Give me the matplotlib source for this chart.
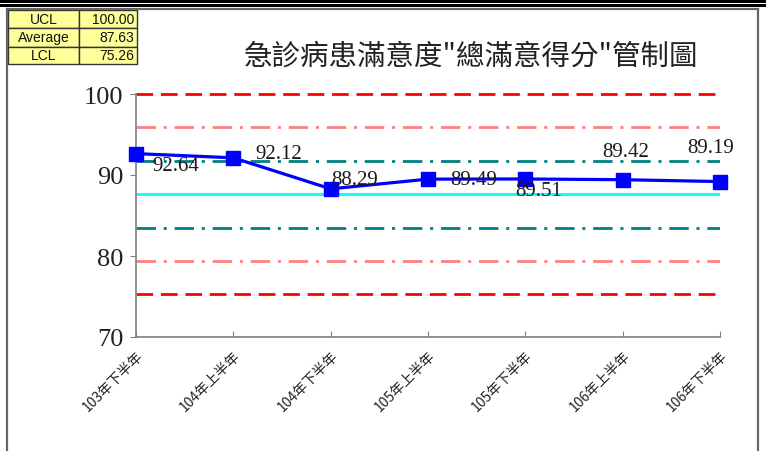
import matplotlib
matplotlib.use("Agg")
import matplotlib.pyplot as plt
from matplotlib.patches import Rectangle
from matplotlib.lines import Line2D

# ---- data ----
periods = ["103年下半年", "104年上半年", "104年下半年", "105年上半年",
           "105年下半年", "106年上半年", "106年下半年"]
scores = [92.64, 92.12, 88.29, 89.49, 89.51, 89.42, 89.19]
ucl = 100.00
average = 87.63
lcl = 75.26
table_labels = ["UCL", "Average", "LCL"]
table_values = [ucl, average, lcl]
yticks = [70, 80, 90, 100]
title = '急診病患滿意度"總滿意得分"管制圖'

# label offsets (pixels) relative to each point: (dx, dy, ha, va)
label_offsets = [(16, -12, "left", "center"), (22, 4, "left", "center"),
                 (1, 9, "left", "center"), (22, 0, "left", "center"),
                 (13, -12, "center", "center"), (3, 28, "center", "center"),
                 (-9, 34, "center", "center")]

W, H = 766, 452
fig = plt.figure(figsize=(W / 100, H / 100), dpi=100)
fig.patch.set_facecolor("white")

def fx(px):
    return px / W

def fy(py):
    return 1 - py / H

# ---- page frame ----
fig.patches.append(Rectangle((0, fy(4)), 1, 4 / H, transform=fig.transFigure,
                             color="black", lw=0))
fig.patches.append(Rectangle((0, fy(7.5)), 1, 2.5 / H, transform=fig.transFigure,
                             color="black", lw=0))
for xs, ys in [([7, 7], [10, 452]), ([7, 758], [10, 10]), ([758, 758], [10, 452])]:
    fig.add_artist(Line2D([fx(v) for v in xs], [fy(v) for v in ys],
                          transform=fig.transFigure, color="#666666", lw=1.6))

# ---- axes ----
ax = fig.add_axes([fx(136), fy(338), fx(720) - fx(136), fy(95) - fy(338)])
x = list(range(len(periods)))
ax.set_xlim(0, len(periods) - 1)
ax.set_ylim(70, 100)

sigma = (ucl - average) / 3
dash_long = (0, (6, 2.8))
dash_dot = (0, (7, 2.8, 1.1, 2.8))
ax.axhline(ucl, color="#FF0000", lw=2.0, ls=dash_long, zorder=2, clip_on=False)
ax.axhline(lcl, color="#FF0000", lw=2.0, ls=dash_long, zorder=2)
ax.axhline(average + 2 * sigma, color="#FF8080", lw=2.0, ls=dash_dot, zorder=2)
ax.axhline(average - 2 * sigma, color="#FF8080", lw=2.0, ls=dash_dot, zorder=2)
ax.axhline(average + sigma, color="#008080", lw=2.0, ls=dash_dot, zorder=2)
ax.axhline(average - sigma, color="#008080", lw=2.0, ls=dash_dot, zorder=2)
ax.axhline(average, color="#00FFFF", lw=2.0, zorder=2)

ax.plot(x, scores, color="#0000FF", lw=2.3, marker="s", markersize=10.5,
        markerfacecolor="#0000FF", markeredgecolor="#0000FF", zorder=4,
        clip_on=False)

for xi, v, (dx, dy, ha, va) in zip(x, scores, label_offsets):
    ax.annotate(f"{v:.2f}", (xi, v), xytext=(dx * 0.72, dy * 0.72),
                textcoords="offset points", ha=ha, va=va,
                fontsize=15, family="Liberation Serif", color="#1a1a1a",
                zorder=5, annotation_clip=False)

for s in ["top", "right"]:
    ax.spines[s].set_visible(False)
for s in ["left", "bottom"]:
    ax.spines[s].set_color("#808080")
    ax.spines[s].set_linewidth(1.2)

ax.set_yticks(yticks)
ax.set_yticklabels([str(t) for t in yticks], family="Liberation Serif",
                   fontsize=19, color="#222222")
ax.tick_params(axis="y", direction="out", length=4, color="#808080", pad=5)
ax.set_xticks(x)
ax.set_xticklabels(periods, rotation=45, ha="right", va="top",
                   rotation_mode="anchor",
                   family=["Noto Sans CJK TC", "DejaVu Sans"], fontsize=10,
                   color="#222222")
ax.tick_params(axis="x", direction="in", length=4, color="#808080", pad=8)

# ---- title ----
fig.text(fx(471), fy(57), title, ha="center", va="center", fontsize=20.5,
         family=["Noto Sans CJK TC", "DejaVu Sans"], color="#222222")

# ---- summary table ----
col_x = [8, 79, 137]
row_y = [11, 29, 47.5, 65]
for i, (lab, val) in enumerate(zip(table_labels, table_values)):
    y0, y1 = row_y[i], row_y[i + 1]
    for j in range(2):
        x0, x1 = col_x[j], col_x[j + 1]
        fig.patches.append(Rectangle((fx(x0), fy(y1)), fx(x1) - fx(x0),
                                     fy(y0) - fy(y1), transform=fig.transFigure,
                                     facecolor="#FFFF99", edgecolor="#333333",
                                     lw=1.0))
    yc = fy((y0 + y1) / 2)
    fig.text(fx((col_x[0] + col_x[1]) / 2), yc, lab, ha="center", va="center",
             fontsize=10, family="Liberation Sans", color="#111111")
    fig.text(fx(col_x[2] - 3), yc, f"{val:.2f}", ha="right", va="center",
             fontsize=10, family="Liberation Sans", color="#111111")

fig.savefig("out.png", dpi=100)
